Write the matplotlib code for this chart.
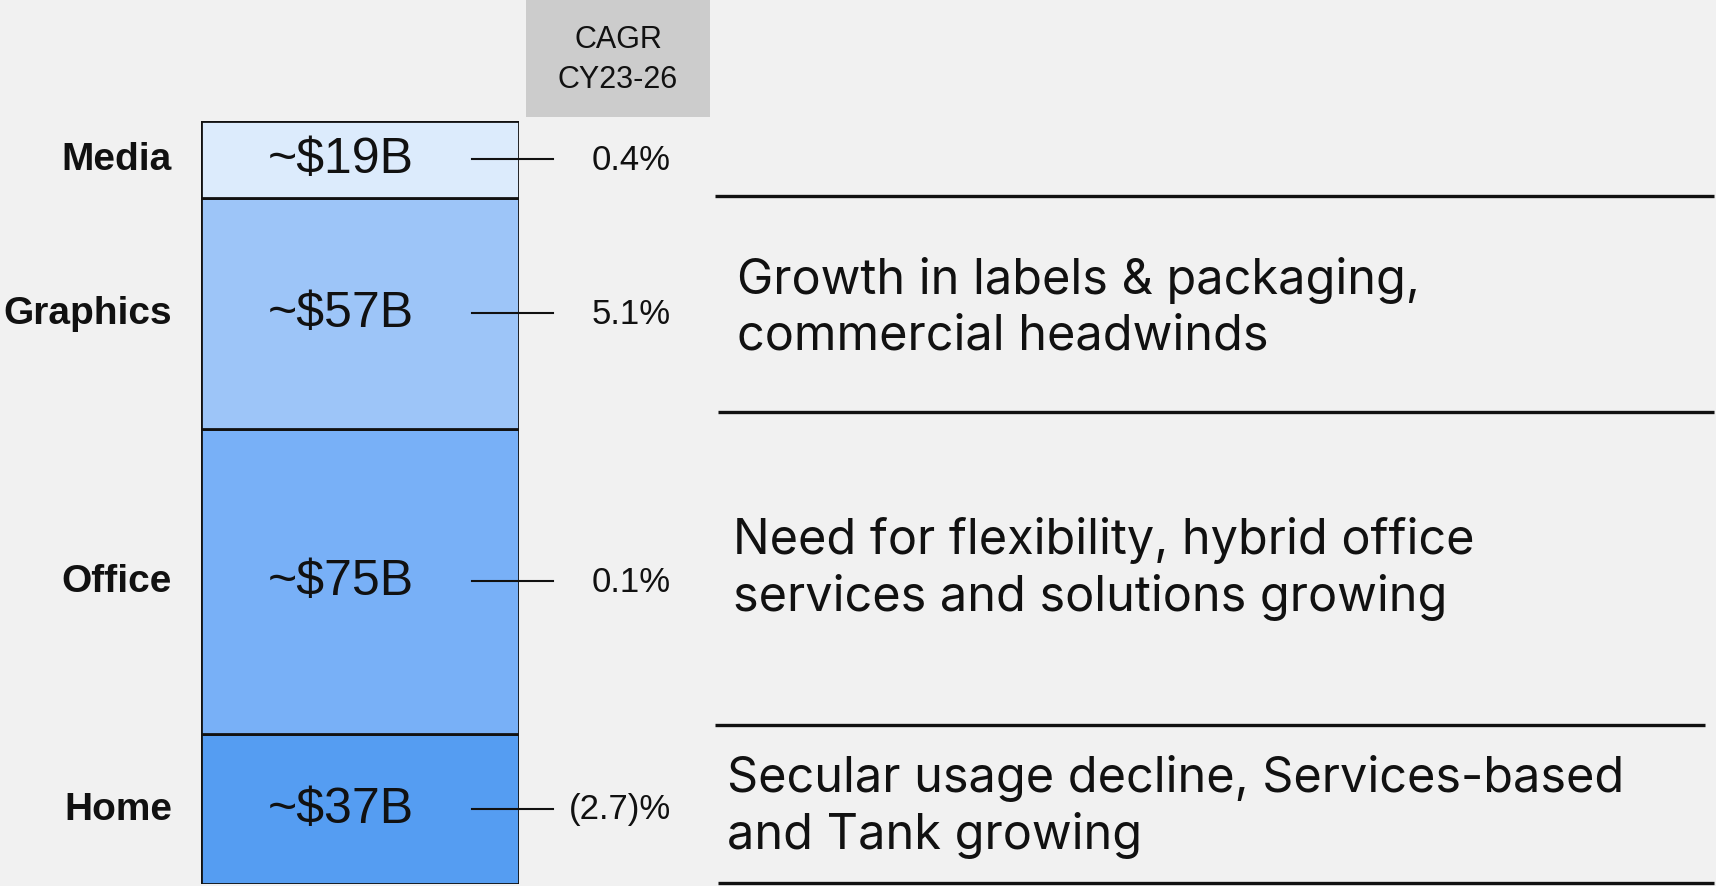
import matplotlib
matplotlib.use("Agg")
import matplotlib.pyplot as plt
import matplotlib.transforms as mtransforms
import numpy as np

# ---- data (bottom to top) ----
categories = ["Home", "Office", "Graphics", "Media"]
values = [37, 75, 57, 19]
value_labels = ["~$37B", "~$75B", "~$57B", "~$19B"]
cagr_labels = ["(2.7)%", "0.1%", "5.1%", "0.4%"]
cagr_header = "CAGR\nCY23-26"
descriptions = [
    "Secular usage decline, Services-based\nand Tank growing",
    "Need for flexibility, hybrid office\nservices and solutions growing",
    "Growth in labels & packaging,\ncommercial headwinds",
]
seg_colors = ["#559df2", "#78b0f7", "#9dc5f8", "#dcebfc"]

W, H = 1716, 887
BG = "#f1f1f1"
fig = plt.figure(figsize=(W / 100, H / 100), dpi=100, facecolor=BG)

# page overlay in pixel coordinates
page = fig.add_axes([0, 0, 1, 1], zorder=0)
page.set_xlim(0, W)
page.set_ylim(H, 0)
page.axis("off")
page.set_facecolor(BG)

# CAGR header box
page.add_patch(plt.Rectangle((526, 0), 184, 118, facecolor="#cccccc", edgecolor="none"))
page.text(618, 60, cagr_header, ha="center", va="center", fontsize=22,
          family="Liberation Sans", linespacing=1.4, color="#111111")

# separator lines on the right
sep_lines = [(197, 715, 1714), (412.5, 718, 1714), (725.5, 715, 1705), (884, 718, 1714)]
for y, x0, x1 in sep_lines:
    page.plot([x0, x1], [y, y], color="#111111", lw=2.4, solid_capstyle="butt")

# description texts
desc_pos = [(727, 807), (733, 569), (737, 308)]
for (x, y), txt in zip(desc_pos, descriptions):
    page.text(x, y, txt, ha="left", va="center", fontsize=35, family="Inter",
              linespacing=1.27, color="#111111")

# stacked bar axes
bx0, bx1, by0, by1 = 201, 519, 121.5, 885
ax = fig.add_axes([bx0 / W, (H - by1) / H, (bx1 - bx0) / W, (by1 - by0) / H], zorder=1)
ax.patch.set_visible(False)
total = sum(values)
bottoms = np.concatenate([[0], np.cumsum(values)[:-1]])
ax.bar([0] * len(values), values, bottom=bottoms, width=1.0, color=seg_colors,
       edgecolor="#111111", linewidth=2.0)
ax.set_xlim(-0.5, 0.5)
ax.set_ylim(0, total)
ax.axis("off")

tr = mtransforms.blended_transform_factory(ax.transAxes, ax.transData)
for cat, v, b, vl, cg in zip(categories, values, bottoms, value_labels, cagr_labels):
    yc = b + v / 2
    ax.text(-0.091, yc, cat, transform=tr, ha="right", va="center", fontsize=28,
            family="Liberation Sans", fontweight="bold", color="#111111")
    ax.text(0.44, yc, vl, transform=tr, ha="center", va="center", fontsize=36,
            family="Liberation Sans", color="#111111")
    ax.plot([0.852, 1.107], [yc, yc], transform=tr, color="#111111", lw=1.5,
            clip_on=False)
    ax.text(1.478, yc, cg, transform=tr, ha="right", va="center", fontsize=25,
            family="Liberation Sans", color="#111111")

fig.savefig("out.png", dpi=100, facecolor=BG)
